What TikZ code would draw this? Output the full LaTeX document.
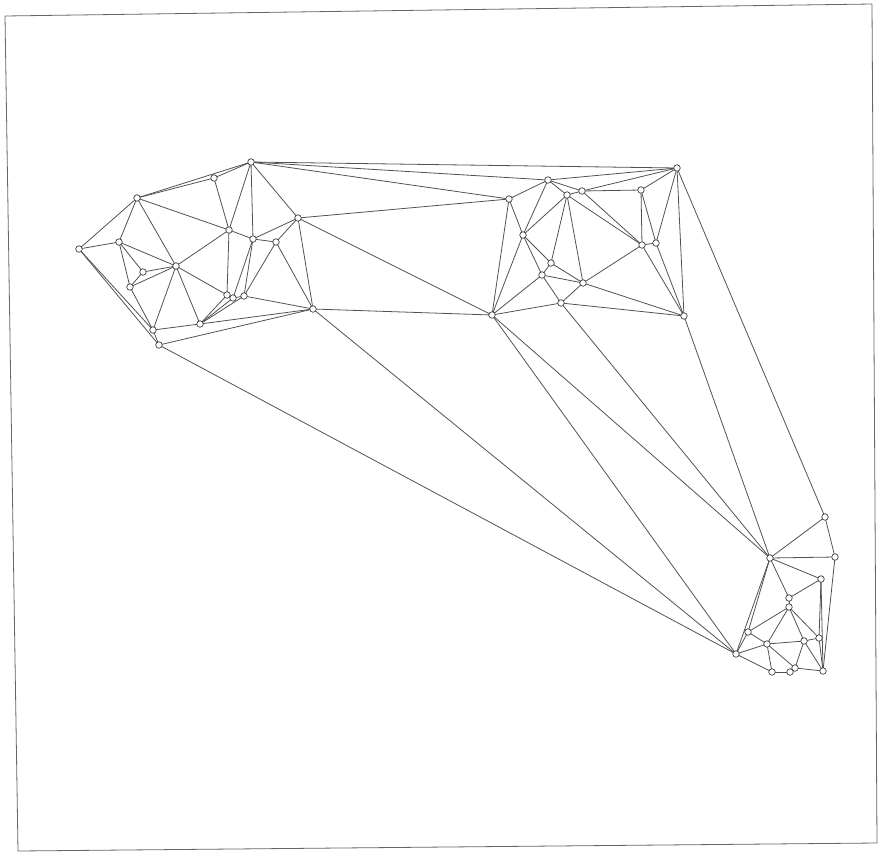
\documentclass[tikz,border=0pt]{standalone}
\begin{document}
\begin{tikzpicture}[x=1pt,y=-1pt,
  vtx/.style={circle,draw=black!75,fill=white,line width=0.7pt,inner sep=0pt,minimum size=6.5pt},
  edge/.style={draw=black!68,line width=0.8pt},
  frame/.style={draw=black!60,line width=0.8pt}]
\useasboundingbox (0,0) rectangle (879,852);
\draw[frame] (5,16) -- (872,4) -- (877,843) -- (18,851) -- cycle;
\foreach \n/\x/\y in {L1/251/162,L2/214/178,L3/137/198,L4/79/249,L5/119/242,L6/229/230,L7/253/239,L8/276/242,L9/298/218,L10/143/272,L11/130/287,L12/176/266,L13/227/295,L14/233/298,L15/244/296,L16/313/309,L17/153/330,L18/200/324,L19/159/345,
R1/677/168,M1/509/199,M2/548/180,M3/567/195,M4/582/191,M5/641/190,M6/523/235,M7/551/263,M8/542/275,M9/583/283,M10/492/315,M11/561/303,M12/642/245,M13/656/243,M14/684/316,
B1/825/517,B2/770/558,B3/835/557,B4/821/579,B5/789/598,B6/789/607,B7/748/632,B8/767/644,B9/804/641,B10/819/638,B11/736/654,B12/772/672,B13/790/672,B14/795/668,B15/823/671}
  \coordinate (\n) at (\x,\y);
\foreach \a/\b in {L1/L2,L2/L3,L1/L3,L1/L6,L1/L7,L1/L9,L2/L6,L3/L4,L3/L5,L3/L12,L3/L6,L4/L5,L4/L17,L4/L19,L5/L11,L5/L10,L5/L12,L10/L12,L11/L12,L10/L11,L11/L17,L12/L6,L12/L17,L12/L18,L12/L13,L6/L7,L6/L13,L7/L8,L7/L9,L8/L9,L7/L14,L7/L15,L8/L15,L8/L16,L9/L16,L15/L16,L17/L18,L13/L18,L14/L18,L15/L18,L13/L14,L14/L15,L17/L19,L18/L16,L19/L16,
L1/R1,L1/M2,L1/M1,L9/M1,L9/M10,L16/M10,L16/B11,L19/B11,
M1/M2,M1/M6,M1/M10,M2/M6,M2/M3,M2/M4,M3/M4,M3/M6,M3/M7,M3/M9,M6/M10,M6/M7,M6/M8,M8/M11,M7/M9,M7/M8,M8/M9,M8/M10,M9/M11,M10/M11,M11/M14,M9/M14,M9/M12,M3/M12,M4/M12,M4/M5,M4/R1,M2/R1,M5/R1,M5/M12,M5/M13,M12/M13,M12/M14,M13/M14,R1/M13,R1/M14,
R1/B1,M14/B2,M11/B2,M10/B2,M10/B11,
B1/B2,B1/B3,B2/B3,B2/B4,B2/B5,B2/B7,B2/B11,B4/B5,B4/B10,B4/B15,B3/B15,B5/B6,B6/B7,B6/B8,B6/B9,B6/B10,B7/B8,B7/B11,B8/B11,B8/B9,B8/B12,B8/B14,B11/B12,B12/B13,B13/B14,B14/B15,B9/B14,B9/B15,B9/B10,B10/B15}
  \draw[edge] (\a) -- (\b);
\foreach \n in {L1,L2,L3,L4,L5,L6,L7,L8,L9,L10,L11,L12,L13,L14,L15,L16,L17,L18,L19,R1,M1,M2,M3,M4,M5,M6,M7,M8,M9,M10,M11,M12,M13,M14,B1,B2,B3,B4,B5,B6,B7,B8,B9,B10,B11,B12,B13,B14,B15}
  \node[vtx] (v\n) at (\n) {};
\end{tikzpicture}
\end{document}
